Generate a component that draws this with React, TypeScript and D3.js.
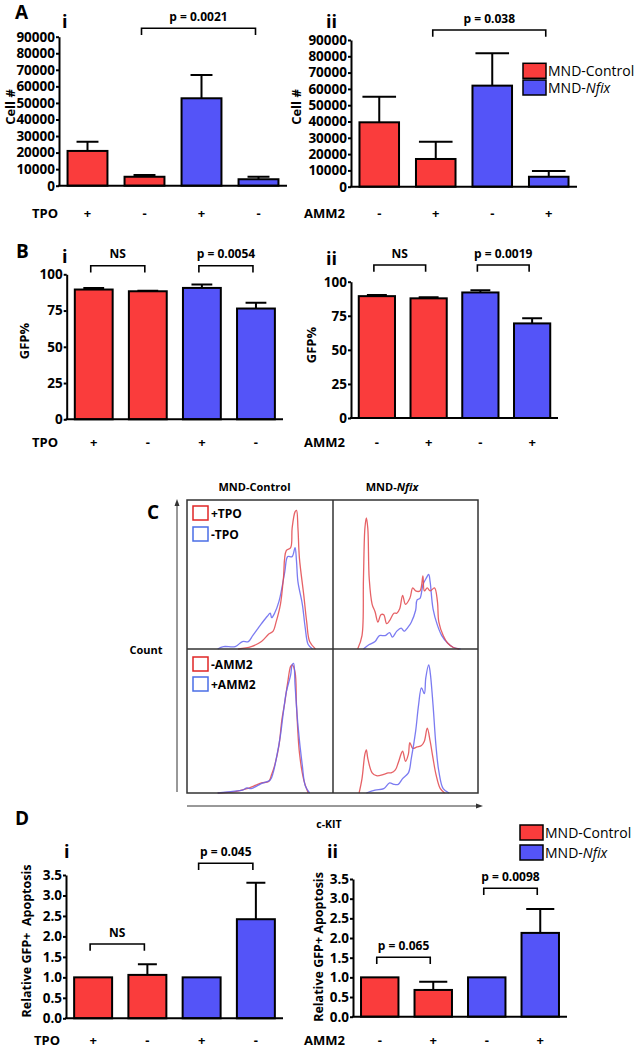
import React, { useEffect, useRef } from "react";
import * as d3 from "d3";

// bar order is the same in every bar chart
const genotypes = ["MND-Control", "MND-Control", "MND-Nfix", "MND-Nfix"];
const tpoSigns = ["+", "-", "+", "-"];
const amm2Signs = ["-", "+", "-", "+"];

// A - cell number (mean / SEM)
const cellTpoMean = [21000, 5400, 52800, 3900];
const cellTpoSem = [5600, 1000, 14100, 1500];
const cellAmm2Mean = [39500, 17000, 62000, 6100];
const cellAmm2Sem = [15700, 10600, 19800, 3500];
const cellTicks = [0, 10000, 20000, 30000, 40000, 50000, 60000, 70000, 80000, 90000];

// B - GFP%
const gfpTpoMean = [89.5, 88.3, 90.6, 76.4];
const gfpTpoSem = [1.1, 0.3, 2.4, 3.9];
const gfpAmm2Mean = [89.4, 87.8, 92.1, 69.4];
const gfpAmm2Sem = [0.8, 0.7, 1.7, 3.7];
const gfpTicks = [0, 25, 50, 75, 100];

// D - relative GFP+ apoptosis
const apoTpoMean = [1.0, 1.06, 1.0, 2.42];
const apoTpoSem = [0, 0.26, 0, 0.89];
const apoAmm2Mean = [1.0, 0.68, 1.0, 2.13];
const apoAmm2Sem = [0, 0.21, 0, 0.61];
const apoTicks = [0, 0.5, 1.0, 1.5, 2.0, 2.5, 3.0, 3.5];

// significance brackets: [from bar, to bar, label]
const cellTpoSig: [number, number, string][] = [[1, 3, "p = 0.0021"]];
const cellAmm2Sig: [number, number, string][] = [[1, 3, "p = 0.038"]];
const gfpTpoSig: [number, number, string][] = [[0, 1, "NS"], [2, 3, "p = 0.0054"]];
const gfpAmm2Sig: [number, number, string][] = [[0, 1, "NS"], [2, 3, "p = 0.0019"]];
const apoTpoSig: [number, number, string][] = [[0, 1, "NS"], [2, 3, "p = 0.045"]];
const apoAmm2Sig: [number, number, string][] = [[0, 1, "p = 0.065"], [2, 3, "p = 0.0098"]];

// C - c-KIT histograms, [channel 0-100, count 0-100 of cell height]
const ctrlPlusTpo: [number, number][] = [[35,0],[44,1.6],[51,5],[56,10],[59,12],[61,18],[64,30],[66,47],[68,66],[71,68],[72,81],[74,92],[75,93],[76,81],[77,61],[80,36],[82,18],[84,5],[88,0]];
const ctrlMinusTpo: [number, number][] = [[21,0],[25,1.6],[33,1.6],[38,5],[42,5],[45,9],[48,13],[51,17],[55,22],[57,24],[58,21],[60,24],[63,32],[65,41],[67,52],[69,62],[72,62],[74,68],[75,59],[76,45],[79,30],[81,14],[83,3],[86,0]];
const nfixPlusTpo: [number, number][] = [[17,0],[20,9],[21,47],[22,81],[23,88],[24,81],[25,47],[27,30],[29,25],[31,18],[33,23],[35,23],[37,17],[39,19],[42,24],[44,24],[46,27],[48,36],[50,30],[53,34],[55,41],[57,39],[60,39],[62,49],[63,39],[65,41],[67,39],[70,41],[72,32],[73,18],[76,9],[79,4],[83,1],[87,0]];
const nfixMinusTpo: [number, number][] = [[21,0],[25,3],[29,5],[32,9],[36,9],[39,11],[41,8],[44,12],[47,14],[49,12],[52,15],[54,18],[57,26],[58,33],[60,34],[62,43],[64,47],[66,50],[67,45],[69,27],[72,16],[75,9],[79,4],[83,1],[88,0]];
const ctrlMinusAmm2: [number, number][] = [[21,0],[33,1],[41,3],[46,5],[51,7],[56,8],[58,13],[60,19],[63,33],[65,51],[67,63],[69,77],[71,88],[72,89],[74,84],[75,61],[77,28],[80,9],[83,0]];
const ctrlPlusAmm2: [number, number][] = [[21,0],[30,1],[38,2],[41,3.5],[44,3],[48,5],[52,7],[57,9],[59,14],[61,23],[64,40],[66,56],[68,70],[71,82],[72,89],[73,90],[74,75],[76,47],[79,19],[81,5],[84,0]];
const nfixMinusAmm2: [number, number][] = [[18,0],[20,10],[22,27],[23,30],[24,24],[27,14],[30,12],[35,13],[38,14],[40,14],[43,16],[45,21],[48,29],[50,22],[52,27],[53,35],[55,31],[58,32],[61,33],[63,36],[65,45],[67,36],[69,24],[71,13],[74,3],[77,0]];
const nfixPlusAmm2: [number, number][] = [[23,0],[29,2],[35,3],[39,7],[42,6],[45,6],[48,10],[52,14],[54,24],[57,43],[59,61],[61,73],[63,69],[64,80],[66,89],[67,84],[69,61],[71,33],[73,15],[76,3],[80,0]];

const RED = "#fa3c3c";
const BLUE = "#5454f8";
const HIST_RED = "#e2474b";
const HIST_BLUE = "#6464ee";
const FONT = "'Open Sans', sans-serif";

export default function App() {
    const svgRef = useRef<SVGSVGElement>(null);

    useEffect(() => {
        const svg = d3.select(svgRef.current);
        svg.selectAll("*").remove();
        svg.append("rect").attr("width", 638).attr("height", 1050).attr("fill", "#fff");

        const text = (x: number, y: number, s: string, size: number, weight = 700, anchor = "start") =>
            svg.append("text")
                .attr("x", x).attr("y", y)
                .attr("font-family", FONT)
                .attr("font-size", size)
                .attr("font-weight", weight)
                .attr("text-anchor", anchor)
                .attr("fill", "#000")
                .text(s);

        const nfixText = (x: number, y: number, size: number, weight: number, anchor = "start") => {
            const t = text(x, y, "", size, weight, anchor);
            t.append("tspan").text("MND-");
            t.append("tspan").attr("font-style", "italic").text("Nfix");
        };

        // panel letters and sub labels
        const letters: [string, number, number, number][] = [
            ["A", 15, 19, 19], ["i", 62, 28, 18], ["ii", 326, 28, 18],
            ["B", 16, 258, 19], ["i", 62, 263, 18], ["ii", 326, 265, 18],
            ["C", 147, 519, 19],
            ["D", 15, 825, 19], ["i", 64, 858, 18], ["ii", 327, 858, 18],
        ];
        letters.forEach(([s, x, y, size]) => text(x, y, s, size));

        // bar panels
        const barPanels = [
            { mean: cellTpoMean, sem: cellTpoSem, ticks: cellTicks, fmt: d3.format("d"), signs: tpoSigns, treat: "TPO", title: "Cell #",
              x0: 59, x1: 287, yTop: 36.7, yBottom: 185.7, titleX: 10, titleY: 107, treatX: 32, labelY: 218, sig: cellTpoSig, sigY: [28.3], cap: 0.55 },
            { mean: cellAmm2Mean, sem: cellAmm2Sem, ticks: cellTicks, fmt: d3.format("d"), signs: amm2Signs, treat: "AMM2", title: "Cell #",
              x0: 351, x1: 577, yTop: 40, yBottom: 186.7, titleX: 296, titleY: 107, treatX: 304, labelY: 218, sig: cellAmm2Sig, sigY: [30], cap: 0.85 },
            { mean: gfpTpoMean, sem: gfpTpoSem, ticks: gfpTicks, fmt: d3.format("d"), signs: tpoSigns, treat: "TPO", title: "GFP%",
              x0: 66.7, x1: 283, yTop: 274.3, yBottom: 419.3, titleX: 24, titleY: 341, treatX: 32, labelY: 447, sig: gfpTpoSig, sigY: [265.7, 265.7], cap: 0.55 },
            { mean: gfpAmm2Mean, sem: gfpAmm2Sem, ticks: gfpTicks, fmt: d3.format("d"), signs: amm2Signs, treat: "AMM2", title: "GFP%",
              x0: 351, x1: 558, yTop: 281.7, yBottom: 418, titleX: 311, titleY: 345, treatX: 304, labelY: 447, sig: gfpAmm2Sig, sigY: [265, 265], cap: 0.55 },
            { mean: apoTpoMean, sem: apoTpoSem, ticks: apoTicks, fmt: d3.format(".1f"), signs: tpoSigns, treat: "TPO", title: "Relative GFP+  Apoptosis",
              x0: 66, x1: 283, yTop: 875, yBottom: 1018.3, titleX: 26, titleY: 941, treatX: 34, labelY: 1045, sig: apoTpoSig, sigY: [944, 863.3], cap: 0.5 },
            { mean: apoAmm2Mean, sem: apoAmm2Sem, ticks: apoTicks, fmt: d3.format(".1f"), signs: amm2Signs, treat: "AMM2", title: "Relative GFP+ Apoptosis",
              x0: 353, x1: 567, yTop: 879, yBottom: 1016.7, titleX: 318, titleY: 947, treatX: 304, labelY: 1045, sig: apoAmm2Sig, sigY: [957.3, 888.3], cap: 0.75 },
        ];

        barPanels.forEach(p => {
            const x = d3.scaleBand<number>().domain(d3.range(p.mean.length)).range([p.x0, p.x1])
                .paddingInner(0.3).paddingOuter(0.15);
            const y = d3.scaleLinear().domain([0, p.ticks[p.ticks.length - 1]]).range([p.yBottom, p.yTop]);
            const bw = x.bandwidth();
            const cx = (i: number) => (x(i) as number) + bw / 2;
            const g = svg.append("g");

            // error bars (upper only)
            p.mean.forEach((m, i) => {
                if (p.sem[i] <= 0) return;
                const half = bw * p.cap / 2;
                g.append("path")
                    .attr("d", `M${cx(i)},${y(m)}V${y(m + p.sem[i])}M${cx(i) - half},${y(m + p.sem[i])}H${cx(i) + half}`)
                    .attr("fill", "none").attr("stroke", "#000").attr("stroke-width", 2);
            });

            g.selectAll("rect.bar")
                .data(p.mean)
                .join("rect")
                    .attr("class", "bar")
                    .attr("x", (d, i) => x(i) as number)
                    .attr("y", d => y(d))
                    .attr("width", bw)
                    .attr("height", d => y(0) - y(d))
                    .attr("fill", (d, i) => genotypes[i] === "MND-Control" ? RED : BLUE)
                    .attr("stroke", "#000")
                    .attr("stroke-width", 2);

            // y axis
            const ax = g.append("g")
                .attr("transform", `translate(${p.x0},0)`)
                .call(d3.axisLeft(y).tickValues(p.ticks).tickFormat(p.fmt as any).tickSize(3).tickSizeOuter(0).tickPadding(1));
            ax.select(".domain").attr("stroke-width", 2).attr("stroke", "#000");
            ax.selectAll(".tick line").attr("stroke-width", 2).attr("stroke", "#000");
            ax.selectAll(".tick text")
                .attr("font-family", FONT).attr("font-weight", 700).attr("font-size", 13.5).attr("fill", "#000");

            // x axis (no ticks)
            g.append("line")
                .attr("x1", p.x0 - 1).attr("x2", p.x1)
                .attr("y1", y(0)).attr("y2", y(0))
                .attr("stroke", "#000").attr("stroke-width", 2);

            // y title
            svg.append("text")
                .attr("transform", `translate(${p.titleX},${p.titleY}) rotate(-90)`)
                .attr("text-anchor", "middle").attr("dominant-baseline", "central")
                .attr("font-family", FONT).attr("font-weight", 700)
                .attr("font-size", p.title.length > 10 ? 12.5 : 13)
                .style("white-space", "pre")
                .text(p.title);

            // treatment row
            text(p.treatX, p.labelY, p.treat, 13);
            p.signs.forEach((s, i) => text(cx(i), p.labelY, s, 13, 700, "middle"));

            // significance brackets
            p.sig.forEach(([a, b, label], k) => {
                const by = p.sigY[k];
                g.append("path")
                    .attr("d", `M${cx(a) - 3},${by + 6.7}V${by}H${cx(b) - 3}V${by + 6.7}`)
                    .attr("fill", "none").attr("stroke", "#000").attr("stroke-width", 1.6);
                text((cx(a) + cx(b)) / 2 - 3, by - 7.5, label, 12, 700, "middle");
            });
        });

        // genotype legends (A and D)
        const legends: [number, number, number][] = [[523, 63.3, 16.7], [520, 825, 20]];
        legends.forEach(([lx, ly, gap]) => {
            [RED, BLUE].forEach((c, k) => {
                svg.append("rect")
                    .attr("x", lx).attr("y", ly + k * gap)
                    .attr("width", 23).attr("height", 15)
                    .attr("fill", c).attr("stroke", "#000").attr("stroke-width", 1.5);
            });
            text(lx + 25, ly + 12.5, "MND-Control", 14, 400);
            nfixText(lx + 25, ly + gap + 12.5, 14, 400);
        });

        // C - flow histograms
        const cols = [187, 333, 478];
        const rows = [500, 649, 793];
        text(254.5, 491, "MND-Control", 11, 700, "middle");
        nfixText(392, 491, 11, 700, "middle");

        const cells = [
            { c: 0, r: 0, curves: [ctrlMinusTpo, ctrlPlusTpo] },
            { c: 1, r: 0, curves: [nfixMinusTpo, nfixPlusTpo] },
            { c: 0, r: 1, curves: [ctrlMinusAmm2, ctrlPlusAmm2] },
            { c: 1, r: 1, curves: [nfixMinusAmm2, nfixPlusAmm2] },
        ];
        cells.forEach(cell => {
            const hx = d3.scaleLinear().domain([0, 100]).range([cols[cell.c], cols[cell.c + 1]]);
            const hy = d3.scaleLinear().domain([0, 100]).range([rows[cell.r + 1], rows[cell.r]]);
            const line = d3.line<[number, number]>()
                .x(d => hx(d[0])).y(d => hy(d[1]))
                .curve(d3.curveCatmullRom.alpha(0.5));
            // TPO row: red = +TPO; AMM2 row: red = -AMM2
            const colours = cell.r === 0 ? [HIST_BLUE, HIST_RED] : [HIST_RED, HIST_BLUE];
            cell.curves.forEach((data, k) => {
                svg.append("path")
                    .attr("d", line(data))
                    .attr("fill", "none")
                    .attr("stroke", colours[k])
                    .attr("stroke-opacity", 0.85)
                    .attr("stroke-width", 1.3);
            });
        });

        // frame and dividers
        svg.append("rect")
            .attr("x", cols[0]).attr("y", rows[0])
            .attr("width", cols[2] - cols[0]).attr("height", rows[2] - rows[0])
            .attr("fill", "none").attr("stroke", "#333").attr("stroke-width", 1.5);
        svg.append("line").attr("x1", cols[1]).attr("x2", cols[1]).attr("y1", rows[0]).attr("y2", rows[2])
            .attr("stroke", "#333").attr("stroke-width", 1.5);
        svg.append("line").attr("x1", cols[0]).attr("x2", cols[2]).attr("y1", rows[1]).attr("y2", rows[1])
            .attr("stroke", "#333").attr("stroke-width", 1.5);

        // open-square legends inside the left cells
        const cLegend: [string, string, number][] = [
            ["+TPO", "#e02626", 506], ["-TPO", "#4a6ee6", 527],
            ["-AMM2", "#e02626", 657], ["+AMM2", "#4a6ee6", 677],
        ];
        cLegend.forEach(([s, c, ly]) => {
            svg.append("rect").attr("x", 193).attr("y", ly).attr("width", 15).attr("height", 14)
                .attr("fill", "#fff").attr("stroke", c).attr("stroke-width", 1.5);
            text(211, ly + 12, s, 12);
        });

        // axis arrows
        svg.append("line").attr("x1", 177).attr("x2", 177).attr("y1", 792).attr("y2", 505)
            .attr("stroke", "#333").attr("stroke-width", 1);
        svg.append("path").attr("d", "M177,499L174.5,506H179.5Z").attr("fill", "#333");
        svg.append("line").attr("x1", 187).attr("x2", 479).attr("y1", 806).attr("y2", 806)
            .attr("stroke", "#333").attr("stroke-width", 1);
        svg.append("path").attr("d", "M483,806L476,803.5V808.5Z").attr("fill", "#333");
        text(146, 654, "Count", 11, 700, "middle");
        text(329, 828, "c-KIT", 10.5, 700, "middle");
    }, []);

    return (
        <div style={{ position: "absolute", left: 0, top: 0 }}>
            <svg ref={svgRef} width={638} height={1050} style={{ display: "block" }}></svg>
        </div>
    );
}
